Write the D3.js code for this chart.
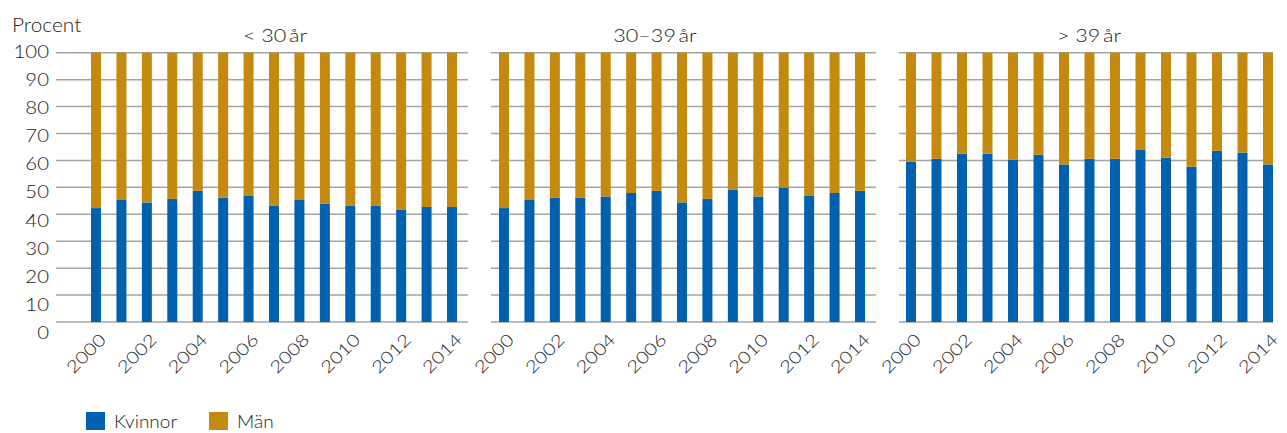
<!DOCTYPE html>
<html><head><meta charset="utf-8">
<script src="https://cdn.jsdelivr.net/npm/d3@7"></script>
<style>
body{margin:0;background:#fff;}
text{font-family:Lato,"Open Sans",sans-serif;font-weight:300;fill:#222;}
</style></head>
<body><svg id="c" width="1287" height="433"></svg>
<script>
const years = [2000,2001,2002,2003,2004,2005,2006,2007,2008,2009,2010,2011,2012,2013,2014];
const tickYears = [2000,2002,2004,2006,2008,2010,2012,2014];
const panelTitles = ["< 30\u2009år","30–39\u2009år","> 39\u2009år"];
const kvinnorU30 = [42.3,45.3,44.4,45.7,48.7,46.2,47.0,43.1,45.3,44.0,43.1,43.1,41.8,42.7,42.7];
const manU30     = [57.7,54.7,55.6,54.3,51.3,53.8,53.0,56.9,54.7,56.0,56.9,56.9,58.2,57.3,57.3];
const kvinnor3039 = [42.3,45.3,46.2,46.2,46.6,47.9,48.7,44.4,45.7,49.2,46.6,49.9,47.0,47.9,48.7];
const man3039     = [57.7,54.7,53.8,53.8,53.4,52.1,51.3,55.6,54.3,50.8,53.4,50.1,53.0,52.1,51.3];
const kvinnorO39 = [59.5,60.6,62.5,62.5,60.3,62.1,58.5,60.6,60.6,64.1,61.0,57.7,63.6,62.9,58.5];
const manO39     = [40.5,39.4,37.5,37.5,39.7,37.9,41.5,39.4,39.4,35.9,39.0,42.3,36.4,37.1,41.5];
const yTicks = [0,10,20,30,40,50,60,70,80,90,100];
const seriesNames = ["Kvinnor","Män"];
const colors = ["#0062ae","#c4890f"];

const panels = [
  {title:panelTitles[0], k:kvinnorU30, m:manU30, gx:[56,468], bx:[96,452], tx:275},
  {title:panelTitles[1], k:kvinnor3039, m:man3039, gx:[491,876], bx:[504,860], tx:655},
  {title:panelTitles[2], k:kvinnorO39, m:manO39, gx:[899,1273], bx:[911,1268], tx:1089}
];

const SX = 1.2;
const svg = d3.select("#c");
const y = d3.scaleLinear().domain([0,100]).range([322,52.7]);
const yLab = d3.scaleLinear().domain([0,100]).range([333,51.5]);
const barW = 10;

// y labels
svg.append("g").selectAll("text").data(yTicks).join("text")
  .attr("transform",d=>`translate(49,${yLab(d)}) scale(${SX},1)`).attr("dy","0.36em")
  .attr("text-anchor","end").style("font-size","17px").text(d=>d);
svg.append("text").attr("transform",`translate(12,31.5) scale(1.1,1)`).style("font-size","19px").text("Procent");

panels.forEach(p=>{
  const g = svg.append("g");
  const x = d3.scalePoint().domain(years).range(p.bx);
  g.append("g").selectAll("line").data(yTicks).join("line")
    .attr("x1",p.gx[0]).attr("x2",p.gx[1]).attr("y1",d=>y(d)).attr("y2",d=>y(d))
    .attr("stroke","#a3a3a3").attr("stroke-width",1.5);
  const rows = years.map((yr,i)=>({year:yr,Kvinnor:p.k[i],"Män":p.m[i]}));
  const stack = d3.stack().keys(seriesNames)(rows);
  g.append("g").selectAll("g").data(stack).join("g").attr("fill",(d,i)=>colors[i])
    .selectAll("rect").data(d=>d).join("rect")
    .attr("x",d=>x(d.data.year)-barW/2).attr("width",barW)
    .attr("y",d=>y(d[1])).attr("height",d=>y(d[0])-y(d[1]));
  g.append("text").attr("transform",`translate(${p.tx},41.5) scale(${SX},1)`).attr("text-anchor","middle")
    .style("font-size","18px").text(p.title);
  g.append("g").selectAll("text").data(tickYears).join("text")
    .attr("transform",d=>`translate(${x(d)+11},341) rotate(-45) scale(${SX},1)`)
    .attr("text-anchor","end").style("font-size","17px").text(d=>d);
});

// legend
const lg = svg.append("g");
const legX = [86,209];
seriesNames.forEach((s,i)=>{
  lg.append("rect").attr("x",legX[i]).attr("y",412).attr("width",19).attr("height",18).attr("fill",colors[i]);
  lg.append("text").attr("transform",`translate(${legX[i]+28},428) scale(1.12,1)`).style("font-size","17px").text(s);
});
</script></body></html>
